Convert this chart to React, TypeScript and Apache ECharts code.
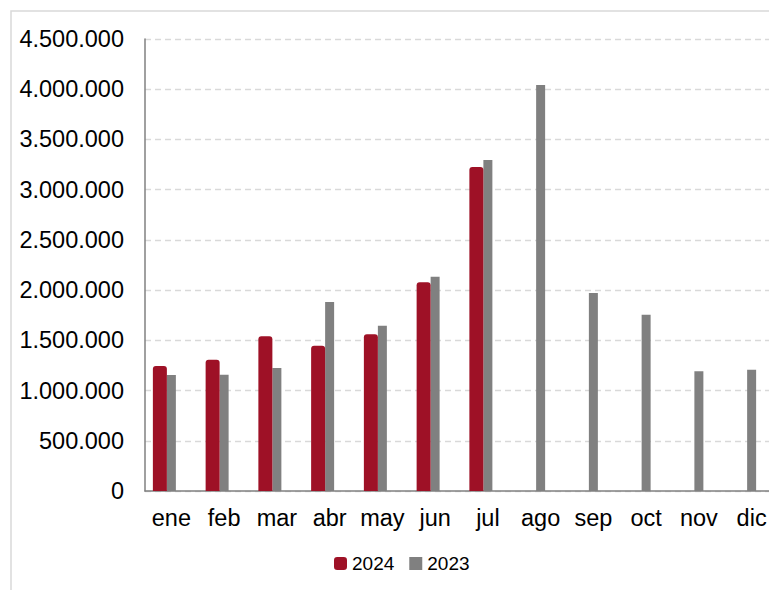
import React, { useEffect, useRef } from "react";
import * as echarts from "echarts";

const months = ["ene", "feb", "mar", "abr", "may", "jun", "jul", "ago", "sep", "oct", "nov", "dic"];
const values2024: (number | null)[] = [1245000, 1307000, 1540000, 1447000, 1560000, 2078000, 3226000, null, null, null, null, null];
const values2023: number[] = [1155000, 1158000, 1225000, 1882000, 1646000, 2134000, 3296000, 4042000, 1971000, 1755000, 1192000, 1208000];
const yMin = 0;
const yMax = 4500000;
const yStep = 500000;

const fmt = (v: number) => String(v).replace(/\B(?=(\d{3})+(?!\d))/g, ".");

export default function App() {
  const ref = useRef<HTMLDivElement>(null);
  useEffect(() => {
    if (!ref.current) return;
    const chart = echarts.init(ref.current, null, { renderer: "svg" });
    const font = "'Liberation Sans', Arial, sans-serif";
    chart.setOption({
      animation: false,
      backgroundColor: "#ffffff",
      graphic: [
        {
          type: "rect",
          shape: { x: 11, y: 11, width: 820, height: 620 },
          style: { fill: "none", stroke: "#d9d9d9", lineWidth: 1.5 },
          silent: true,
        },
      ],
      legend: {
        left: 329,
        top: 549,
        itemWidth: 13,
        itemHeight: 13,
        itemGap: 15,
        textStyle: { fontFamily: font, fontSize: 19, color: "#000" },
        data: [
          { name: "2024", icon: "roundRect" },
          { name: "2023", icon: "rect" },
        ],
      },
      grid: { left: 145, top: 39, height: 452, width: 633, containLabel: false },
      xAxis: [
        {
          type: "category",
          data: months,
          axisLine: { lineStyle: { color: "#808080", width: 1.5 } },
          axisTick: { show: false },
          axisLabel: { fontFamily: font, fontSize: 23.5, color: "#000", margin: 15, interval: 0 },
        },
        {
          type: "category",
          data: months,
          show: false,
          position: "bottom",
        },
      ],
      yAxis: {
        type: "value",
        min: yMin,
        max: yMax,
        interval: yStep,
        axisLine: { show: true, lineStyle: { color: "#808080", width: 1.5 } },
        axisTick: { show: false },
        splitLine: { lineStyle: { color: "#d9d9d9", type: [6, 4], width: 1.3 } },
        axisLabel: { fontFamily: font, fontSize: 23.5, color: "#000", margin: 21, formatter: (v: number) => fmt(v) },
      },
      series: [
        {
          name: "2023",
          type: "bar",
          xAxisIndex: 0,
          data: values2023,
          barWidth: 9,
          itemStyle: { color: "#808080" },
        },
        {
          name: "2024",
          type: "bar",
          xAxisIndex: 1,
          data: values2024,
          barWidth: 14,
          barGap: "0%",
          itemStyle: { color: "#9e1126", borderRadius: [3, 3, 0, 0] },
        },
        {
          name: "spacer",
          type: "bar",
          xAxisIndex: 1,
          data: months.map(() => null),
          barWidth: 23,
          barGap: "0%",
          itemStyle: { color: "transparent" },
          silent: true,
        },
      ],
    });
    return () => chart.dispose();
  }, []);
  return (
    <div style={{ position: "absolute", left: 0, top: 0, width: 769, height: 590, overflow: "hidden" }}>
      <div ref={ref} style={{ position: "absolute", left: 0, top: 0, width: 800, height: 590 }} />
    </div>
  );
}
